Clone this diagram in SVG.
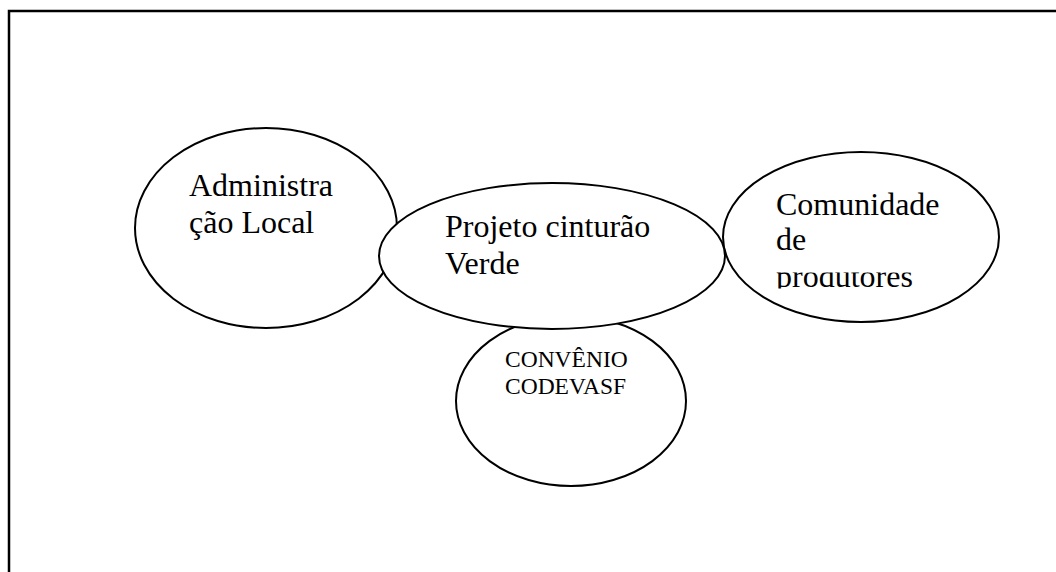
<svg xmlns="http://www.w3.org/2000/svg" width="1056" height="572" viewBox="0 0 1056 572">
<style>
.node ellipse{fill:#fff;stroke:#000;stroke-width:2}
.t{font-family:"Liberation Serif","Times New Roman",serif;font-size:32px;fill:#000}
.s{font-family:"Liberation Serif","Times New Roman",serif;font-size:23.5px;fill:#000}
</style>
<defs>
<clipPath id="clipProd"><rect x="770" y="272.5" width="200" height="16"/></clipPath>
</defs>
<rect width="1056" height="572" fill="#fff"/>
<g id="frame" fill="none" stroke="#000" stroke-width="2.5">
<path d="M9,572 V11 H1056"/>
</g>
<g id="connectors"></g>
<g id="admin" class="node">
<ellipse cx="266" cy="228" rx="131" ry="100"/>
<text class="t" x="189" y="196">Administra</text>
<text class="t" x="189" y="233">ção Local</text>
</g>
<g id="comunidade" class="node">
<ellipse cx="861" cy="237" rx="138" ry="85"/>
<text class="t" x="776" y="215">Comunidade</text>
<text class="t" x="776" y="250">de</text>
<text class="t" x="776" y="287" clip-path="url(#clipProd)">produtores</text>
</g>
<g id="convenio" class="node">
<ellipse cx="571" cy="401" rx="115" ry="85"/>
<text class="s" x="505" y="367">CONVÊNIO</text>
<text class="s" x="505" y="394">CODEVASF</text>
</g>
<g id="projeto" class="node">
<ellipse cx="552" cy="256" rx="173" ry="73"/>
<text class="t" x="445" y="237">Projeto cinturão</text>
<text class="t" x="445" y="274">Verde</text>
</g>
</svg>
